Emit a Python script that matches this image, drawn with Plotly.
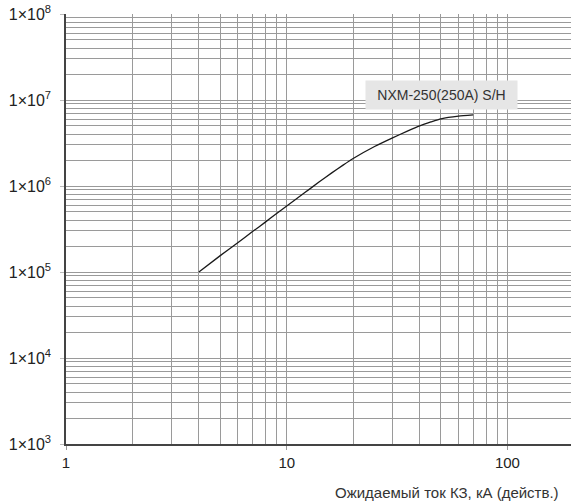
import plotly.graph_objects as go

# Data
current_ka = [4, 5, 6, 7, 8, 9, 10, 12, 14, 16, 18, 20, 25, 30, 35, 40, 45, 50, 60, 70]
let_through = [1.0e5, 1.55e5, 2.19e5, 2.95e5, 3.8e5, 4.79e5, 5.85e5, 8.28e5, 1.11e6,
               1.42e6, 1.75e6, 2.09e6, 2.88e6, 3.61e6, 4.31e6, 4.99e6, 5.55e6, 6.04e6,
               6.5e6, 6.7e6]
series_label = "NXM-250(250A) S/H"

x_tick_vals = [1, 10, 100]
x_tick_text = ["1", "10", "100"]
y_tick_vals = [1e3, 1e4, 1e5, 1e6, 1e7, 1e8]
y_tick_text = ["1×10<sup>3</sup>", "1×10<sup>4</sup>", "1×10<sup>5</sup>",
               "1×10<sup>6</sup>", "1×10<sup>7</sup>", "1×10<sup>8</sup>"]
x_title = "Ожидаемый ток КЗ, кА (действ.)"

x_minor = [m * d for d in (1, 10) for m in range(2, 10)]
y_minor = [m * d for d in (1e3, 1e4, 1e5, 1e6, 1e7) for m in range(2, 10)]

FONT = "Liberation Sans, Arial, sans-serif"
GRID = "#9a9a9a"

fig = go.Figure()
fig.add_trace(go.Scatter(
    x=current_ka, y=let_through, mode="lines",
    line=dict(color="#1a1a1a", width=1.3, shape="spline", smoothing=0.5),
    hoverinfo="skip", showlegend=False))

fig.update_layout(
    width=571, height=503,
    margin=dict(l=66, r=0, t=14, b=59),
    paper_bgcolor="white", plot_bgcolor="white",
    font=dict(family=FONT, size=14, color="#222"),
    xaxis=dict(
        type="log", range=[0, 2.288], automargin=False,
        tickmode="array", tickvals=x_tick_vals, ticktext=x_tick_text,
        ticks="outside", ticklen=4, tickcolor="#999",
        showgrid=True, gridcolor=GRID, gridwidth=1,
        minor=dict(tickmode="array", tickvals=x_minor, showgrid=True,
                   gridcolor=GRID, gridwidth=1, ticks=""),
        showline=True, linecolor="#444", linewidth=1.5,
        zeroline=False, tickfont=dict(size=15, color="#222"),
    ),
    yaxis=dict(
        type="log", range=[3, 8], automargin=False,
        tickmode="array", tickvals=y_tick_vals, ticktext=y_tick_text,
        ticks="outside", ticklen=4, tickcolor="#bbb", ticklabelstandoff=6,
        showgrid=True, gridcolor=GRID, gridwidth=1,
        minor=dict(tickmode="array", tickvals=y_minor, showgrid=True,
                   gridcolor=GRID, gridwidth=1, ticks=""),
        showline=True, linecolor="#444", linewidth=1.5,
        zeroline=False, tickfont=dict(size=16, color="#222"),
    ),
    annotations=[
        dict(x=1.7023, y=7.0547, xref="x", yref="y", text=series_label,
             showarrow=False, bgcolor="#e6e6e6", width=149, height=26,
             font=dict(size=14, color="#333"), xanchor="center", yanchor="middle"),
        dict(x=1, y=0, xref="paper", yref="paper", text=x_title,
             showarrow=False, xanchor="right", yanchor="middle",
             xshift=-10, yshift=-48, font=dict(size=15, color="#333")),
    ],
)

fig.write_html(
    "out.html",
    config={"displayModeBar": False},
    post_script="document.body.style.margin='0';document.body.style.overflow='hidden';",
)
